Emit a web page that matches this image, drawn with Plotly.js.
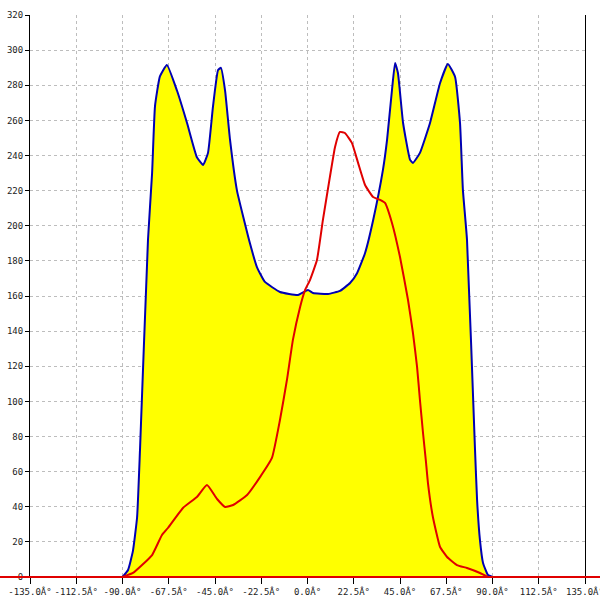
<!DOCTYPE html>
<html>
<head>
<meta charset="utf-8">
<script src="https://cdn.plot.ly/plotly-3.0.1.min.js"></script>
<style>html,body{margin:0;padding:0;background:#fff;}#chart{width:600px;height:600px;}</style>
</head>
<body>
<div id="chart"></div>
<script>
// Blue series (filled yellow underneath)
var blueX = [-90, -87.3, -84.9, -82.9, -81.5, -77.6, -75.6, -74.2, -71.8, -68.4, -63.5, -58.6, -53.8, -50.8, -48.4, -46.0, -43.5, -42.1, -40.1, -37.7, -34.3, -28.0, -24.6, -20.7, -13.4, -4.6, 0.2, 2.7, 10.0, 15.8, 20.7, 24.1, 28.0, 31.9, 36.7, 38.7, 41.1, 42.6, 44.0, 46.5, 49.9, 51.3, 54.7, 59.6, 64.5, 68.3, 71.8, 74.2, 75.6, 77.6, 81.5, 82.5, 83.9, 85.4, 87.8, 90];
var blueY = [0, 4, 15, 34, 72, 192, 230, 268, 285, 291.6, 277, 258.5, 239, 234.6, 241.5, 267.7, 288.7, 289.9, 277, 249, 220, 190, 176.5, 168, 162.3, 160.6, 163.4, 161.7, 161.2, 162.9, 167.4, 173, 184.5, 203, 231.8, 248.9, 277.3, 292.7, 287, 258.5, 237.5, 235.8, 241.5, 258.5, 281.3, 292.1, 284.7, 258.5, 220.4, 191.9, 72.3, 43.8, 21, 8, 1.1, 0];

// Red series
var redX = [-90, -84.9, -80.5, -75.6, -70.8, -67.9, -60.6, -53.8, -48.9, -44.0, -40.1, -36.2, -29.4, -23.1, -17.3, -13.4, -10.0, -7.1, -3.6, -1.2, 1.2, 4.6, 7.5, 10.9, 13.4, 15.8, 18.2, 21.6, 24.6, 28.0, 31.9, 35.3, 37.7, 41.1, 45.0, 48.9, 51.3, 53.3, 54.7, 56.2, 57.6, 58.6, 61.0, 64.5, 67.9, 72.7, 77.6, 83.9, 87.8, 90];
var redY = [0, 2.3, 6.8, 12.5, 23.9, 27.9, 39.3, 45.6, 52.4, 44.4, 39.9, 41, 46.7, 56.9, 67.8, 89.4, 112.2, 135, 153.8, 163.4, 169.1, 180.5, 203.3, 227.8, 244.9, 253.4, 252.8, 247.2, 235.8, 223.2, 216.4, 214.7, 213, 201.6, 182.2, 157.7, 139, 119.6, 100.8, 82, 66, 53.5, 34.2, 17.1, 11.4, 6.8, 5.1, 2.3, 0, 0];

// Axis ticks
var xTickVals = [-135, -112.5, -90, -67.5, -45, -22.5, 0, 22.5, 45, 67.5, 90, 112.5, 135];
var xTickText = ["-135.0Â°", "-112.5Â°", "-90.0Â°", "-67.5Â°", "-45.0Â°", "-22.5Â°", "0.0Â°", "22.5Â°", "45.0Â°", "67.5Â°", "90.0Â°", "112.5Â°", "135.0Â°"];
var yTickVals = [0, 20, 40, 60, 80, 100, 120, 140, 160, 180, 200, 220, 240, 260, 280, 300, 320];

var font = {family: "DejaVu Sans Mono", size: 9, color: "#222"};

var traces = [
  {x: blueX, y: blueY, type: "scatter", mode: "lines", fill: "tozeroy", fillcolor: "#ffff00",
   line: {color: "#0000b4", width: 2, shape: "spline", smoothing: 0.4}, hoverinfo: "none"},
  {x: redX, y: redY, type: "scatter", mode: "lines",
   line: {color: "#e00000", width: 2, shape: "spline", smoothing: 0.4}, hoverinfo: "none"}
];

var layout = {
  width: 600, height: 600,
  margin: {l: 30, r: 15, t: 15, b: 23},
  paper_bgcolor: "#ffffff", plot_bgcolor: "#ffffff",
  showlegend: false,
  font: font,
  xaxis: {
    range: [-135, 135], tickmode: "array", tickvals: xTickVals, ticktext: xTickText,
    showgrid: true, gridcolor: "#bdbdbd", griddash: "3px,3px", gridwidth: 1,
    zeroline: false, showline: true, linecolor: "#000", linewidth: 1,
    ticks: "outside", ticklen: 6, tickcolor: "#000", tickfont: font, mirror: false,
    ticklabeloverflow: "allow", automargin: false
  },
  yaxis: {
    range: [0, 320], tickmode: "array", tickvals: yTickVals,
    showgrid: true, gridcolor: "#bdbdbd", griddash: "3px,3px", gridwidth: 1,
    zeroline: false, showline: true, linecolor: "#000", linewidth: 1, mirror: true,
    ticks: "outside", ticklen: 4, tickcolor: "#000", tickfont: font,
    ticklabeloverflow: "allow", automargin: false
  },
  shapes: [
    {type: "line", xref: "paper", yref: "paper", x0: -0.06, x1: 1.03, y0: 0, y1: 0,
     line: {color: "#e00000", width: 2}, layer: "above"}
  ]
};

Plotly.newPlot("chart", traces, layout, {staticPlot: true, displayModeBar: false});
</script>
</body>
</html>
